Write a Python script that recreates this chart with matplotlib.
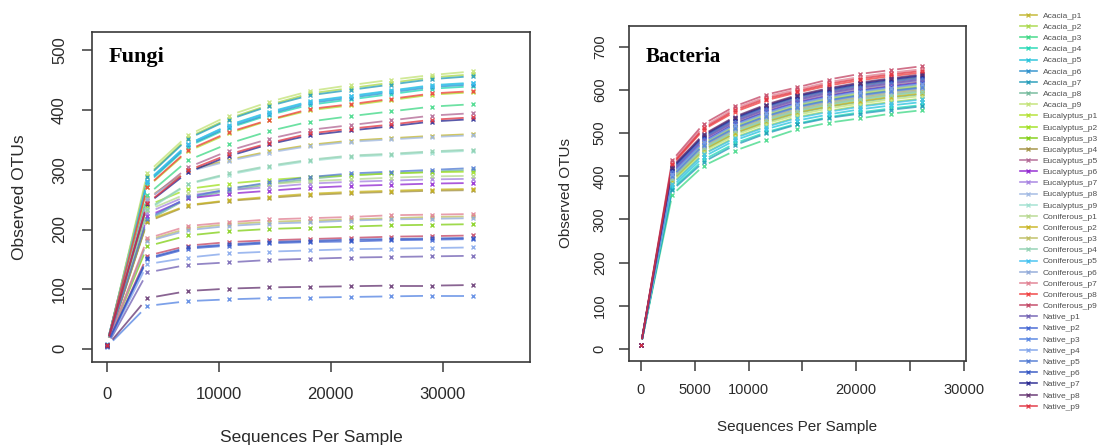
import matplotlib
matplotlib.use("Agg")
import matplotlib.pyplot as plt
import numpy as np
from matplotlib.collections import LineCollection
from matplotlib.lines import Line2D

# rarefaction depths (sequences per sample)
FUNGI_DEPTH = [10, 3640, 7270, 10900, 14530, 18160, 21790, 25420, 29050, 32680]
BACT_DEPTH = [10, 2915, 5820, 8725, 11630, 14535, 17440, 20345, 23250, 26155]

SAMPLES = [f"Acacia_p{i}" for i in range(1, 10)] + \
          [f"Eucalyptus_p{i}" for i in range(1, 10)] + \
          [f"Coniferous_p{i}" for i in range(1, 10)] + \
          [f"Native_p{i}" for i in range(1, 10)]

COLORS = [
    "#c2b52c", "#a8d848", "#3cd884", "#1fd8b4", "#22c2da", "#2a8fcc",
    "#1f9ab8", "#6fb898", "#c2e274",
    "#b2e02e", "#9ee01c", "#7fce10", "#a08e3e", "#b06492", "#8e22d0",
    "#a47fe0", "#9fb8e2", "#9fe0d0",
    "#b6d88e", "#c8b41e", "#bebe60", "#8ed0b0", "#3ec0f0", "#8ea8d8",
    "#e07e90", "#f03c3c", "#c24262",
    "#6f5eb2", "#3e62d2", "#5282e2", "#7ea2ea", "#4e78d2", "#2f52c2",
    "#23238e", "#62306e", "#e0303e",
]

# observed OTUs, one list per sample, fungi
FUNGI = [
    [6, 252, 299, 317, 331, 342, 349, 353, 357, 360],
    [4, 290, 354, 386, 409, 428, 437, 446, 455, 460],
    [5, 258, 316, 344, 365, 381, 390, 398, 406, 410],
    [7, 277, 339, 370, 392, 409, 418, 427, 436, 440],
    [5, 281, 343, 375, 397, 415, 424, 433, 442, 446],
    [8, 279, 341, 372, 394, 412, 421, 430, 439, 443],
    [6, 288, 352, 384, 407, 425, 434, 443, 452, 457],
    [5, 215, 252, 265, 276, 285, 291, 294, 297, 300],
    [4, 295, 358, 391, 414, 432, 442, 451, 459, 465],
    [6, 271, 331, 361, 383, 400, 408, 417, 426, 430],
    [5, 240, 268, 277, 283, 288, 291, 294, 296, 297],
    [7, 172, 190, 197, 201, 203, 205, 207, 208, 209],
    [5, 213, 240, 248, 253, 258, 261, 263, 265, 266],
    [6, 249, 304, 332, 352, 367, 375, 383, 391, 395],
    [4, 222, 252, 260, 265, 270, 273, 275, 277, 278],
    [5, 228, 257, 266, 271, 277, 280, 282, 284, 285],
    [6, 251, 297, 315, 329, 340, 347, 351, 355, 358],
    [5, 232, 276, 292, 305, 315, 322, 325, 329, 332],
    [5, 232, 261, 270, 276, 281, 284, 287, 289, 290],
    [6, 215, 241, 249, 255, 260, 263, 265, 267, 268],
    [4, 182, 202, 209, 213, 215, 217, 219, 221, 222],
    [6, 234, 277, 294, 307, 317, 324, 327, 331, 334],
    [5, 280, 343, 374, 396, 414, 423, 432, 441, 445],
    [6, 180, 199, 206, 210, 212, 215, 217, 218, 219],
    [5, 185, 206, 212, 217, 219, 221, 224, 225, 226],
    [7, 272, 333, 363, 384, 402, 410, 419, 428, 432],
    [5, 156, 173, 179, 182, 184, 186, 188, 189, 190],
    [4, 128, 141, 145, 149, 151, 153, 154, 155, 156],
    [5, 150, 168, 173, 177, 179, 180, 182, 183, 184],
    [3, 72, 80, 83, 85, 86, 87, 88, 89, 89],
    [5, 142, 153, 160, 163, 165, 167, 168, 169, 170],
    [6, 218, 254, 268, 279, 288, 294, 297, 300, 303],
    [6, 152, 170, 175, 179, 181, 183, 184, 185, 186],
    [7, 243, 296, 323, 343, 358, 366, 373, 381, 385],
    [4, 85, 97, 101, 103, 104, 105, 106, 106, 107],
    [6, 244, 299, 326, 345, 361, 369, 376, 384, 388],
]

# observed OTUs, one list per sample, bacteria
BACTERIA = [
    [9, 395, 466, 505, 532, 553, 568, 580, 590, 598],
    [9, 383, 452, 490, 516, 537, 551, 563, 572, 580],
    [9, 357, 424, 459, 485, 509, 524, 534, 545, 553],
    [9, 371, 438, 476, 502, 522, 537, 548, 557, 565],
    [9, 376, 445, 483, 509, 529, 543, 555, 564, 572],
    [9, 400, 472, 511, 538, 560, 575, 587, 597, 605],
    [9, 368, 433, 472, 499, 520, 535, 545, 554, 562],
    [9, 389, 460, 499, 525, 546, 561, 572, 582, 590],
    [9, 387, 457, 495, 522, 542, 557, 568, 578, 586],
    [9, 404, 477, 517, 545, 566, 581, 594, 603, 612],
    [9, 409, 484, 524, 552, 574, 589, 601, 611, 620],
    [9, 401, 474, 514, 541, 562, 578, 590, 599, 608],
    [9, 416, 491, 532, 561, 583, 598, 611, 621, 630],
    [9, 413, 488, 529, 557, 579, 595, 607, 617, 626],
    [9, 408, 482, 522, 550, 572, 587, 599, 609, 618],
    [9, 410, 485, 526, 554, 575, 591, 603, 613, 622],
    [9, 396, 468, 507, 534, 555, 570, 582, 592, 600],
    [9, 393, 464, 503, 530, 550, 565, 577, 587, 595],
    [9, 403, 476, 515, 543, 564, 580, 592, 601, 610],
    [9, 391, 462, 500, 527, 548, 562, 574, 584, 592],
    [9, 397, 470, 509, 536, 557, 572, 584, 594, 602],
    [9, 393, 465, 504, 530, 551, 566, 578, 588, 596],
    [9, 381, 451, 488, 514, 535, 549, 561, 570, 578],
    [9, 399, 471, 510, 538, 559, 574, 586, 596, 604],
    [9, 432, 515, 557, 584, 601, 618, 630, 640, 648],
    [9, 426, 508, 549, 576, 594, 610, 622, 632, 640],
    [9, 437, 521, 562, 589, 606, 624, 637, 646, 655],
    [9, 412, 487, 527, 555, 577, 593, 605, 615, 624],
    [9, 407, 480, 521, 548, 570, 585, 598, 607, 616],
    [9, 400, 473, 512, 539, 561, 576, 588, 598, 606],
    [9, 405, 479, 519, 546, 568, 583, 596, 605, 614],
    [9, 415, 490, 531, 559, 581, 597, 609, 619, 628],
    [9, 418, 493, 534, 562, 585, 600, 613, 623, 632],
    [9, 420, 495, 536, 564, 586, 602, 615, 625, 634],
    [9, 422, 497, 538, 566, 588, 604, 617, 627, 636],
    [9, 429, 511, 553, 580, 597, 614, 626, 636, 644],
]

FUNGI_XTICKS = [0, 10000, 20000, 30000]
FUNGI_YTICKS = [0, 100, 200, 300, 400, 500]
BACT_XTICKS = [0, 5000, 10000, 15000, 20000, 25000, 30000]
BACT_XLABELS = ["0", "5000", "10000", "", "20000", "", "30000"]
BACT_YTICKS = [0, 100, 200, 300, 400, 500, 600, 700]

TEXT = "#2a2a2a"
FRAME = "#3a3a3a"


def draw_gapped(ax, fig, x, y, color, gap_px):
    """R type='b': segments stop short of each point."""
    x = np.asarray(x, float)
    y = np.asarray(y, float)
    pos = ax.get_position()
    w = pos.width * fig.get_figwidth() * fig.dpi
    h = pos.height * fig.get_figheight() * fig.dpi
    x0, x1 = ax.get_xlim()
    y0, y1 = ax.get_ylim()
    sx, sy = w / (x1 - x0), h / (y1 - y0)
    segs = []
    for i in range(len(x) - 1):
        dx, dy = (x[i + 1] - x[i]) * sx, (y[i + 1] - y[i]) * sy
        length = np.hypot(dx, dy)
        if length <= 2 * gap_px:
            continue
        t = gap_px / length
        xa, ya = x[i] + t * (x[i + 1] - x[i]), y[i] + t * (y[i + 1] - y[i])
        xb, yb = x[i + 1] - t * (x[i + 1] - x[i]), y[i + 1] - t * (y[i + 1] - y[i])
        segs.append([(xa, ya), (xb, yb)])
    ax.add_collection(LineCollection(segs, colors=color, linewidths=1.3,
                                     alpha=0.75, zorder=2))
    ax.plot(x, y, ls="none", marker="x", ms=3.2, mew=1.0, color=color,
            alpha=0.85, zorder=3)


def style_axes(ax, fs, tick_pad):
    for s in ax.spines.values():
        s.set_color(FRAME)
        s.set_linewidth(1.2)
    ax.tick_params(direction="out", length=7, width=1.1, color=FRAME,
                   labelsize=fs, labelcolor=TEXT, pad=tick_pad)
    for lab in ax.get_yticklabels():
        lab.set_rotation(90)
        lab.set_va("center")


def main():
    plt.rcParams["font.family"] = ["Liberation Sans", "DejaVu Sans"]
    fig = plt.figure(figsize=(11.05, 4.45), dpi=100)

    ax1 = fig.add_axes([92 / 1105, 1 - 362 / 445, 438 / 1105, 330 / 445])
    ax1.set_xlim(-1300, 37800)
    ax1.set_ylim(-22, 531)
    ax1.set_xticks(FUNGI_XTICKS)
    ax1.set_yticks(FUNGI_YTICKS)
    style_axes(ax1, 12, 11)
    for ys, c in zip(FUNGI, COLORS):
        draw_gapped(ax1, fig, FUNGI_DEPTH, ys, c, 9)
    ax1.set_xlabel("Sequences Per Sample", fontsize=12.5, color=TEXT)
    ax1.set_ylabel("Observed OTUs", fontsize=12.5, color=TEXT)
    ax1.xaxis.set_label_coords(0.5, -0.205)
    ax1.yaxis.set_label_coords(-0.148, 0.5)
    ax1.text(0.037, 0.925, "Fungi", transform=ax1.transAxes, fontsize=16,
             fontweight="bold", family="Liberation Serif", va="center")

    ax2 = fig.add_axes([629 / 1105, 1 - 361 / 445, 337 / 1105, 335 / 445])
    ax2.set_xlim(-1100, 30200)
    ax2.set_ylim(-28, 748)
    ax2.set_xticks(BACT_XTICKS)
    ax2.set_xticklabels(BACT_XLABELS)
    ax2.set_yticks(BACT_YTICKS)
    style_axes(ax2, 10.5, 9)
    for ys, c in zip(BACTERIA, COLORS):
        draw_gapped(ax2, fig, BACT_DEPTH, ys, c, 6)
    ax2.set_xlabel("Sequences Per Sample", fontsize=11, color=TEXT)
    ax2.set_ylabel("Observed OTUs", fontsize=11, color=TEXT)
    ax2.xaxis.set_label_coords(0.5, -0.175)
    ax2.yaxis.set_label_coords(-0.165, 0.5)
    ax2.text(0.05, 0.907, "Bacteria", transform=ax2.transAxes, fontsize=15,
             fontweight="bold", family="Liberation Serif", va="center")

    handles = [Line2D([], [], color=c, marker="x", ms=3, mew=1.0, lw=1.2,
                      alpha=0.85) for c in COLORS]
    fig.legend(handles, SAMPLES, loc="upper left",
               bbox_to_anchor=(1020 / 1105, 1 - 12 / 445), frameon=False,
               fontsize=6.0, labelcolor="#505050", handlelength=2.0,
               handletextpad=0.7, labelspacing=0.40, borderaxespad=0,
               borderpad=0)

    fig.savefig("out.png", dpi=100, facecolor="white")


if __name__ == "__main__":
    main()
